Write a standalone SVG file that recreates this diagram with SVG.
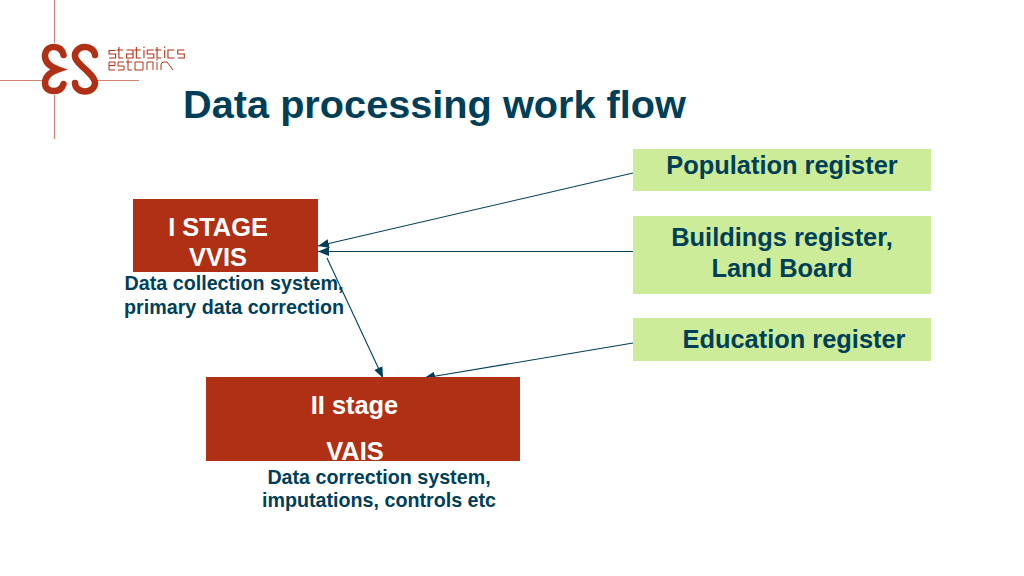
<svg xmlns="http://www.w3.org/2000/svg" width="1024" height="576" viewBox="0 0 1024 576">
<style>
text{font-family:"Liberation Sans",Arial,sans-serif;font-weight:700;text-anchor:middle}
.g{fill:#CCEC9A}.r{fill:#B03016}
.d{fill:#003F57}.w{fill:#fff}
.t25{font-size:25.4px}.t20{font-size:19.7px}
.c{stroke:#003F57;stroke-width:1.1;fill:none;marker-end:url(#a)}
.logo{fill:none;stroke:#B03016;stroke-width:6.5;stroke-linecap:round}
.lt{fill:none;stroke:#B03016;stroke-width:1}
</style>
<defs><marker id="a" markerUnits="userSpaceOnUse" markerWidth="12" markerHeight="10" refX="11" refY="5" orient="auto"><path d="M0 0.500L11 5L0 9.500z" fill="#003F57"/></marker></defs>
<rect width="1024" height="576" fill="#fff"/>
<g id="logo">
<path d="M54.500 0V43M54.500 95V139M0 80.500H43M97 80.500H139" stroke="#D9826F" stroke-width="1.200" fill="none"/>
<path class="logo" d="M63.500 55C62 49 58 47 54 47C48 47 45 51 45 56C45 63 51 67 58 69.500C51 72 45 76 45 83C45 88 48 91 54 91C58 91 62 89 63.500 84"/>
<path class="logo" d="M95 55A10 8.500 0 0 0 75 56C75 64 95 74 95 83A10 8.500 0 0 1 75 83"/>
<g class="lt">
<path transform="translate(108 0) scale(1.09 1) translate(-108 0)" d="M115 50.500H109V54H115V58H109M118 47V58H122M116 50H122M125 50H131V58H125V54H131M134 47V58H138M132 50H138M141 50V58M141 46.500V48M150 50H144V54H150V58H144M153 47V58H157M151 50H157M160 50V58M160 46.500V48M169 50H163V58H169M178 50H172V54H178V58H172"/>
<path d="M109 65.500H115V62H109V70H115M124 62H118V66H124V70H118M128 59.500V70H132M126 62H132M135 62H143V70H135ZM147 70V62H153V70M157 62V70M157 59V60.500M161 70V65Q161 62 164 62H167L173 70"/>
</g>
</g>
<text id="title" x="434.500" y="118" style="font-size:39.700px" fill="#003F57">Data processing work flow</text>
<g id="connectors">
<path class="c" d="M633 173L318 246"/>
<path class="c" d="M633 251.500H318"/>
<path class="c" d="M327 258L383 378"/>
<path class="c" d="M633 343L424 378"/>
</g>
<g id="population"><rect class="g" x="633" y="149" width="298" height="42"/><text class="d t25" x="782" y="174">Population register</text></g>
<g id="buildings"><rect class="g" x="633" y="216" width="298" height="78"/><text class="d t25" x="782" y="246">Buildings register,</text><text class="d t25" x="782" y="277">Land Board</text></g>
<g id="education"><rect class="g" x="633" y="318" width="298" height="43"/><text class="d t25" x="794" y="348">Education register</text></g>
<g id="stage1"><rect class="r" x="133" y="199" width="185" height="73"/><text class="w t25" x="218" y="236">I STAGE</text><text class="w t25" x="218" y="266">VVIS</text><text class="d t20" x="234" y="290">Data collection system,</text><text class="d t20" x="234" y="314">primary data correction</text></g>
<g id="stage2"><rect class="r" x="206" y="377" width="314" height="84"/><text class="w t25" x="354.500" y="414">II stage</text><text class="w t25" x="355" y="460">VAIS</text><text class="d t20" x="379" y="484">Data correction system,</text><text class="d t20" x="379" y="507">imputations, controls etc</text></g>
</svg>
